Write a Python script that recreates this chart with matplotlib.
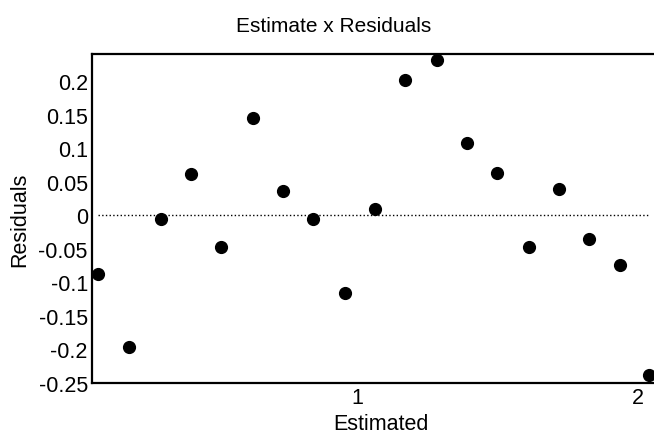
import numpy as np
import matplotlib.pyplot as plt

plt.rcParams['font.family'] = ['Liberation Sans', 'DejaVu Sans']

# estimated values and residuals
estimated = [0.078, 0.188, 0.302, 0.409, 0.516, 0.630, 0.737, 0.843, 0.957, 1.064,
             1.171, 1.285, 1.391, 1.498, 1.612, 1.719, 1.826, 1.937, 2.040]
residuals = [-0.088, -0.197, -0.005, 0.061, -0.047, 0.145, 0.036, -0.005, -0.116, 0.010,
             0.201, 0.231, 0.108, 0.063, -0.047, 0.039, -0.036, -0.074, -0.238]
yticks = [0.2, 0.15, 0.1, 0.05, 0, -0.05, -0.1, -0.15, -0.2, -0.25]
ytick_labels = ['0.2', '0.15', '0.1', '0.05', '0', '-0.05', '-0.1', '-0.15', '-0.2', '-0.25']
xticks = [1, 2]

fig = plt.figure(figsize=(6.54, 4.39), dpi=100)
ax = fig.add_axes([92/654, 1 - 384/439, 1 - 92/654 + 0.01, (384 - 55)/439])

ax.hlines(0, estimated[0], estimated[-1], colors='black', linestyles=':', lw=1)
ax.scatter(estimated, residuals, s=72, color='black', zorder=3, clip_on=False)

ax.set_xlim(0.057, 2.08)
ax.set_ylim(-0.25, 0.2405)
ax.set_yticks(yticks)
ax.set_yticklabels(ytick_labels)
ax.set_xticks(xticks)
ax.set_xticklabels(['1', '2'])
ax.tick_params(length=0, labelsize=15.5, pad=3)

for s in ['left', 'top', 'bottom']:
    ax.spines[s].set_linewidth(1.6)
ax.spines['right'].set_visible(False)

fig.text(334/654, 1 - 27/439, 'Estimate x Residuals', fontsize=15, ha='center', va='center')
ax.set_xlabel('Estimated', fontsize=15.5)
ax.xaxis.set_label_coords((381 - 92) / (654 * (1 - 92/654 + 0.01)), -0.09)
ax.set_ylabel('Residuals', fontsize=15.5, labelpad=6)

fig.savefig('out.png', dpi=100)
